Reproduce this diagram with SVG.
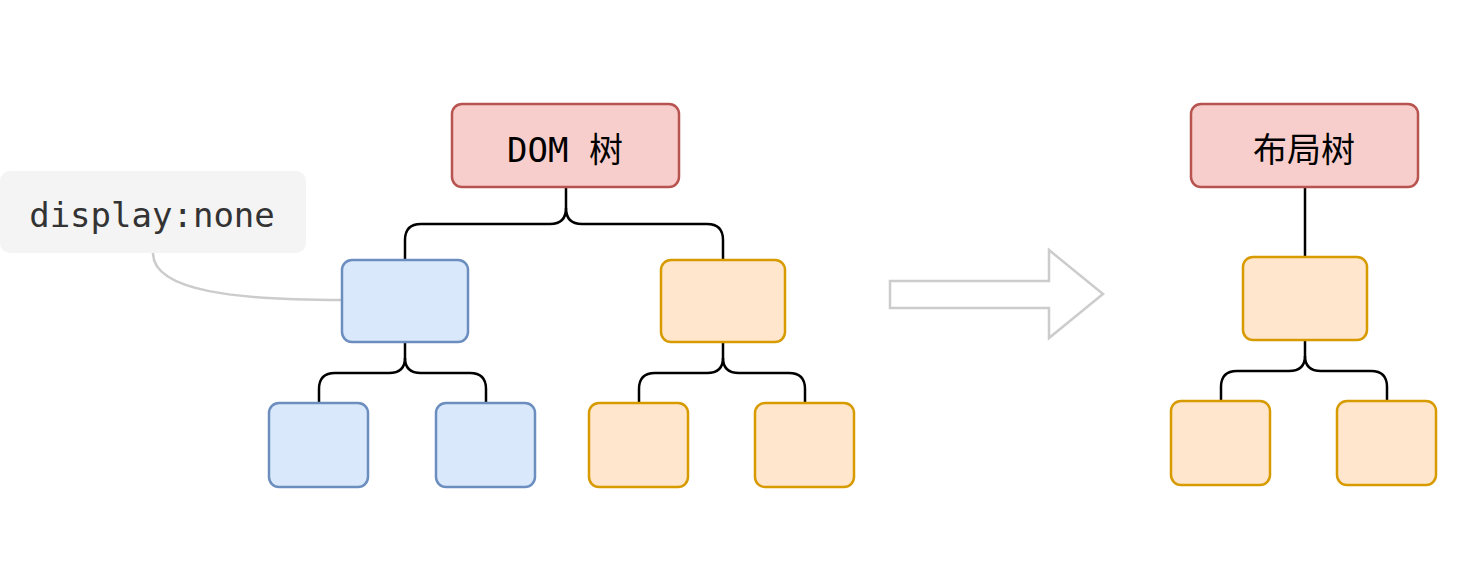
<svg xmlns="http://www.w3.org/2000/svg" width="1464" height="572" viewBox="0 0 1464 572">
<style>
.red{fill:#f8cecc;stroke:#b85450;stroke-width:2.5}
.blue{fill:#dae8fc;stroke:#6c8ebf;stroke-width:2.5}
.orange{fill:#ffe6cc;stroke:#d79b00;stroke-width:2.5}
.edge{fill:none;stroke:#000;stroke-width:2.5}
.t{font-family:"DejaVu Sans Mono","Noto Sans CJK SC",monospace;font-size:34px;fill:#000;text-anchor:middle;dominant-baseline:central}
</style>
<rect width="1464" height="572" fill="#fff"/>
<g id="connectors">
<path class="edge" d="M566,187 L566,208 Q566,224 550,224 L421,224 Q405,224 405,240 L405,260"/>
<path class="edge" d="M566,208 Q566,224 582,224 L707,224 Q723,224 723,240 L723,260"/>
<path class="edge" d="M405,342 L405,358 Q405,373 389,373 L335,373 Q319,373 319,389 L319,403"/>
<path class="edge" d="M405,358 Q405,373 421,373 L470,373 Q486,373 486,389 L486,403"/>
<path class="edge" d="M723,342 L723,358 Q723,373 707,373 L655,373 Q639,373 639,389 L639,403"/>
<path class="edge" d="M723,358 Q723,373 739,373 L789,373 Q805,373 805,389 L805,403"/>
<path class="edge" d="M1305,187 L1305,257"/>
<path class="edge" d="M1305,340 L1305,356 Q1305,371 1289,371 L1237,371 Q1221,371 1221,387 L1221,401"/>
<path class="edge" d="M1305,356 Q1305,371 1321,371 L1371,371 Q1387,371 1387,387 L1387,401"/>
<path d="M153,253 C153,292 240,300 342,300" fill="none" stroke="#cccccc" stroke-width="2.5"/>
<path d="M890,281 L1049,281 L1049,250 L1103,294 L1049,338 L1049,308 L890,308 Z" fill="#fff" stroke="#cccccc" stroke-width="2.5"/>
</g>
<g id="note">
<rect x="0" y="171" width="306" height="82" rx="10" fill="#f4f4f4"/>
<text x="152" y="215" class="t" style="font-size:34px;fill:#333">display:none</text>
</g>
<g id="dom"><rect class="red" x="452" y="104" width="227" height="83" rx="10"/><text class="t" x="565" y="150">DOM 树</text></g>
<g id="b1"><rect class="blue" x="342" y="260" width="126" height="82" rx="10"/></g>
<g id="o1"><rect class="orange" x="661" y="260" width="124" height="82" rx="10"/></g>
<g id="b2"><rect class="blue" x="269" y="403" width="99" height="84" rx="10"/></g>
<g id="b3"><rect class="blue" x="436" y="403" width="99" height="84" rx="10"/></g>
<g id="o2"><rect class="orange" x="589" y="403" width="99" height="84" rx="10"/></g>
<g id="o3"><rect class="orange" x="755" y="403" width="99" height="84" rx="10"/></g>
<g id="layout"><rect class="red" x="1191" y="104" width="227" height="83" rx="10"/><text class="t" x="1304" y="150">布局树</text></g>
<g id="lo1"><rect class="orange" x="1243" y="257" width="124" height="83" rx="10"/></g>
<g id="lo2"><rect class="orange" x="1171" y="401" width="99" height="84" rx="10"/></g>
<g id="lo3"><rect class="orange" x="1337" y="401" width="99" height="84" rx="10"/></g>
</svg>
